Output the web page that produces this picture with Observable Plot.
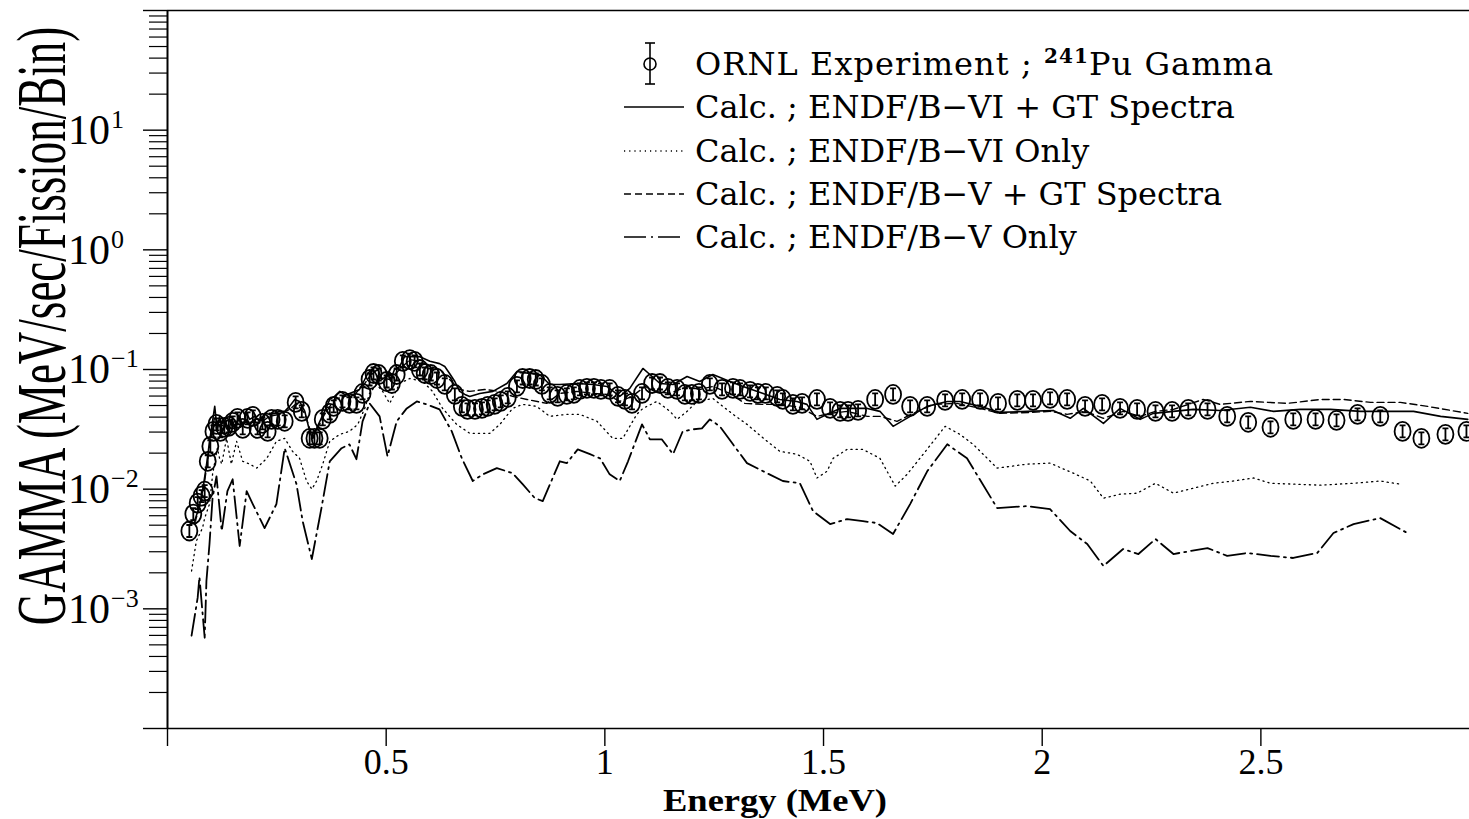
<!DOCTYPE html>
<html><head><meta charset="utf-8">
<script src="https://cdn.jsdelivr.net/npm/d3@7"></script>
<script src="https://cdn.jsdelivr.net/npm/@observablehq/plot@0.6"></script>
<style>
html,body{margin:0;padding:0;background:#fff;}
#chart{width:1469px;height:819px;overflow:hidden;}
</style></head><body><div id="chart"></div>
<script>
// ORNL experiment, 241Pu gamma (MeV)
const expEnergy = [0.050,0.059,0.069,0.078,0.085,0.092,0.098,0.105,0.112,0.121,0.130,0.140,0.149,0.160,0.172,0.183,0.195,0.206,0.217,0.229,0.238,0.252,0.268,0.293,0.307,0.325,0.336,0.348,0.355,0.371,0.380,0.400,0.416,0.432,0.446,0.462,0.471,0.483,0.501,0.513,0.524,0.538,0.554,0.565,0.577,0.588,0.602,0.616,0.634,0.657,0.673,0.686,0.703,0.719,0.732,0.748,0.762,0.778,0.799,0.812,0.828,0.842,0.856,0.874,0.892,0.913,0.929,0.943,0.959,0.975,0.991,1.011,1.030,1.046,1.062,1.085,1.108,1.126,1.144,1.165,1.183,1.199,1.215,1.240,1.268,1.293,1.309,1.332,1.350,1.368,1.394,1.407,1.430,1.451,1.485,1.515,1.538,1.556,1.579,1.618,1.659,1.698,1.737,1.778,1.817,1.858,1.899,1.943,1.979,2.018,2.057,2.098,2.137,2.178,2.217,2.259,2.297,2.334,2.378,2.423,2.471,2.522,2.574,2.625,2.673,2.721,2.773,2.824,2.867,2.922,2.970];
const expGamma = [0.00447,0.00619,0.00764,0.00874,0.00962,0.0171,0.0228,0.0304,0.0348,0.0304,0.0329,0.0335,0.0362,0.0391,0.0322,0.0391,0.0406,0.0322,0.0355,0.0304,0.0383,0.0383,0.0369,0.0531,0.0447,0.0266,0.0266,0.0266,0.0383,0.0430,0.0492,0.0541,0.0521,0.0521,0.0631,0.0825,0.0926,0.0908,0.0794,0.0764,0.0908,0.117,0.121,0.117,0.100,0.0926,0.0908,0.0841,0.0750,0.0619,0.0492,0.0464,0.0464,0.0473,0.0492,0.0511,0.0541,0.0584,0.0722,0.0841,0.0841,0.0825,0.0750,0.0631,0.0596,0.0619,0.0631,0.0681,0.0695,0.0695,0.0681,0.0681,0.0596,0.0562,0.0521,0.0631,0.0764,0.0764,0.0695,0.0681,0.0619,0.0619,0.0631,0.0750,0.0681,0.0695,0.0681,0.0656,0.0631,0.0631,0.0596,0.0562,0.0511,0.0521,0.0562,0.0473,0.0447,0.0447,0.0455,0.0562,0.0619,0.0492,0.0492,0.0552,0.0562,0.0562,0.0521,0.0552,0.0552,0.0573,0.0562,0.0492,0.0511,0.0473,0.0464,0.0447,0.0447,0.0464,0.0464,0.0406,0.0362,0.0329,0.0383,0.0383,0.0376,0.0422,0.0406,0.0304,0.0266,0.0287,0.0304];

// Calc. ; ENDF/B-VI + GT Spectra (solid)
const viGtEnergy = [0.062,0.073,0.080,0.087,0.092,0.096,0.103,0.108,0.114,0.119,0.126,0.133,0.140,0.146,0.153,0.165,0.172,0.181,0.188,0.199,0.211,0.222,0.233,0.245,0.256,0.268,0.279,0.291,0.302,0.314,0.325,0.332,0.343,0.359,0.371,0.382,0.394,0.405,0.416,0.428,0.439,0.451,0.458,0.467,0.474,0.481,0.490,0.497,0.503,0.513,0.519,0.531,0.542,0.554,0.577,0.600,0.622,0.634,0.645,0.657,0.668,0.680,0.691,0.714,0.744,0.776,0.799,0.828,0.851,0.874,0.897,0.936,0.973,1.005,1.034,1.057,1.087,1.103,1.126,1.156,1.188,1.217,1.247,1.286,1.316,1.362,1.400,1.439,1.462,1.485,1.508,1.538,1.600,1.629,1.659,1.698,1.737,1.783,1.812,1.858,1.904,1.966,2.025,2.064,2.094,2.140,2.178,2.224,2.254,2.300,2.346,2.407,2.476,2.529,2.590,2.659,2.728,2.789,2.849,2.911,2.973];
const viGtGamma = [0.00541,0.00722,0.00962,0.0141,0.0188,0.0251,0.0369,0.0492,0.0304,0.0406,0.0304,0.0369,0.0304,0.0383,0.0335,0.0406,0.0335,0.0430,0.0383,0.0406,0.0369,0.0430,0.0422,0.0430,0.0447,0.0447,0.0492,0.0562,0.0541,0.0447,0.0304,0.0266,0.0335,0.0447,0.0562,0.0596,0.0656,0.0619,0.0631,0.0656,0.0681,0.0825,0.0926,0.100,0.0962,0.100,0.0825,0.0858,0.0926,0.0875,0.100,0.106,0.128,0.128,0.128,0.117,0.112,0.106,0.0926,0.0794,0.0656,0.0619,0.0596,0.0631,0.0656,0.0764,0.0962,0.0926,0.0908,0.0750,0.0750,0.0764,0.0750,0.0722,0.0596,0.0695,0.102,0.0908,0.0764,0.0750,0.0875,0.0794,0.0908,0.0794,0.0722,0.0631,0.0562,0.0541,0.0511,0.0383,0.0422,0.0473,0.0473,0.0447,0.0335,0.0406,0.0492,0.0541,0.0541,0.0492,0.0438,0.0447,0.0455,0.0391,0.0473,0.0355,0.0473,0.0383,0.0430,0.0447,0.0464,0.0455,0.0483,0.0447,0.0464,0.0464,0.0447,0.0447,0.0447,0.0406,0.0383];

// Calc. ; ENDF/B-VI Only (dotted)
const viEnergy = [0.055,0.066,0.080,0.085,0.096,0.101,0.103,0.114,0.119,0.124,0.135,0.146,0.158,0.172,0.188,0.204,0.227,0.249,0.268,0.286,0.302,0.318,0.330,0.341,0.355,0.371,0.394,0.416,0.435,0.451,0.462,0.478,0.492,0.508,0.531,0.554,0.584,0.606,0.629,0.661,0.691,0.737,0.760,0.789,0.812,0.844,0.874,0.913,0.943,0.982,1.018,1.041,1.073,1.087,1.119,1.149,1.165,1.188,1.211,1.247,1.293,1.325,1.371,1.400,1.439,1.469,1.485,1.508,1.522,1.554,1.590,1.629,1.664,1.691,1.728,1.778,1.812,1.842,1.897,1.966,2.018,2.071,2.110,2.140,2.178,2.217,2.259,2.300,2.346,2.391,2.437,2.483,2.522,2.636,2.712,2.773,2.819];
const viGamma = [0.00207,0.00369,0.00473,0.00573,0.00750,0.0110,0.0133,0.0220,0.0181,0.0162,0.0266,0.0162,0.0251,0.0171,0.0162,0.0150,0.0181,0.0251,0.0266,0.0207,0.0181,0.0117,0.0100,0.0117,0.0162,0.0251,0.0287,0.0304,0.0348,0.0473,0.0631,0.0750,0.0656,0.0521,0.0764,0.0841,0.0794,0.0656,0.0473,0.0348,0.0293,0.0293,0.0348,0.0473,0.0511,0.0492,0.0406,0.0422,0.0422,0.0369,0.0266,0.0266,0.0422,0.0473,0.0541,0.0447,0.0383,0.0447,0.0541,0.0573,0.0422,0.0348,0.0251,0.0207,0.0196,0.0171,0.0124,0.0141,0.0181,0.0215,0.0215,0.0181,0.0106,0.0133,0.0196,0.0335,0.0287,0.0237,0.0150,0.0162,0.0165,0.0136,0.0117,0.00841,0.00908,0.00926,0.0112,0.00926,0.0102,0.0112,0.0117,0.0124,0.0112,0.0108,0.0112,0.0117,0.0110];

// Calc. ; ENDF/B-V + GT Spectra (dashed)
const vGtEnergy = [0.062,0.073,0.085,0.096,0.108,0.119,0.130,0.142,0.153,0.165,0.188,0.211,0.233,0.256,0.279,0.295,0.314,0.332,0.359,0.382,0.405,0.428,0.451,0.467,0.485,0.508,0.531,0.554,0.577,0.600,0.622,0.645,0.668,0.691,0.725,0.760,0.789,0.822,0.867,0.897,0.936,0.973,1.005,1.034,1.062,1.092,1.114,1.149,1.188,1.217,1.247,1.286,1.320,1.362,1.400,1.446,1.485,1.515,1.554,1.600,1.629,1.668,1.705,1.751,1.805,1.858,1.904,1.973,2.018,2.057,2.098,2.140,2.185,2.224,2.259,2.300,2.368,2.407,2.476,2.561,2.636,2.689,2.751,2.819,2.881,2.973];
const vGtGamma = [0.00521,0.00695,0.0117,0.0228,0.0406,0.0335,0.0369,0.0316,0.0369,0.0348,0.0369,0.0355,0.0406,0.0422,0.0464,0.0521,0.0430,0.0266,0.0422,0.0562,0.0596,0.0619,0.0764,0.0926,0.0858,0.0825,0.100,0.121,0.117,0.106,0.100,0.0825,0.0681,0.0656,0.0681,0.0656,0.0596,0.0562,0.0521,0.0631,0.0656,0.0631,0.0619,0.0541,0.0596,0.0722,0.0656,0.0631,0.0722,0.0681,0.0722,0.0631,0.0521,0.0511,0.0511,0.0483,0.0406,0.0430,0.0447,0.0406,0.0406,0.0369,0.0430,0.0511,0.0521,0.0473,0.0430,0.0438,0.0447,0.0422,0.0447,0.0391,0.0447,0.0406,0.0447,0.0464,0.0562,0.0511,0.0541,0.0521,0.0562,0.0562,0.0531,0.0531,0.0492,0.0430];

// Calc. ; ENDF/B-V Only (long dash - dot)
const vEnergy = [0.055,0.069,0.073,0.085,0.089,0.096,0.103,0.112,0.124,0.137,0.149,0.165,0.181,0.195,0.222,0.249,0.268,0.295,0.309,0.330,0.352,0.371,0.398,0.416,0.432,0.446,0.462,0.485,0.503,0.524,0.547,0.570,0.593,0.622,0.650,0.673,0.698,0.721,0.753,0.789,0.812,0.840,0.858,0.897,0.913,0.938,0.966,0.989,1.011,1.034,1.053,1.085,1.103,1.130,1.156,1.178,1.201,1.222,1.240,1.263,1.293,1.325,1.371,1.407,1.446,1.476,1.515,1.554,1.590,1.622,1.659,1.698,1.737,1.783,1.828,1.897,1.966,2.018,2.064,2.103,2.140,2.185,2.220,2.259,2.300,2.378,2.423,2.469,2.522,2.574,2.629,2.666,2.712,2.773,2.835];
const vGamma = [0.000596,0.00124,0.00185,0.000573,0.00171,0.00348,0.00841,0.0128,0.00447,0.00962,0.0121,0.00335,0.00962,0.00750,0.00473,0.00750,0.0220,0.0110,0.00541,0.00261,0.00695,0.0171,0.0220,0.0237,0.0178,0.0369,0.0521,0.0406,0.0188,0.0369,0.0473,0.0541,0.0511,0.0464,0.0304,0.0181,0.0117,0.0133,0.0150,0.0136,0.0110,0.00841,0.00794,0.0171,0.0165,0.0215,0.0196,0.0181,0.0133,0.0117,0.0171,0.0348,0.0261,0.0261,0.0196,0.0304,0.0316,0.0322,0.0383,0.0335,0.0237,0.0165,0.0136,0.0117,0.0112,0.00656,0.00511,0.00562,0.00541,0.00521,0.00422,0.00750,0.0141,0.0237,0.0181,0.00695,0.00722,0.00681,0.00447,0.00348,0.00228,0.00316,0.00287,0.00383,0.00287,0.00322,0.00277,0.00293,0.00277,0.00266,0.00293,0.00430,0.00511,0.00573,0.00430];

// Axes
const xTickValues = [0, 0.5, 1, 1.5, 2, 2.5];
const xTickLabels = ["", "0.5", "1", "1.5", "2", "2.5"];
const yMajorExponents = [-4, -3, -2, -1, 0, 1, 2];
const yLabelExponents = [1, 0, -1, -2, -3];
const yLabelSuperscripts = ["1", "0", "\u22121", "\u22122", "\u22123"];
const xAxisTitle = "Energy (MeV)";
const yAxisTitle = "GAMMA (MeV/sec/Fission/Bin)";
const legendTexts = [
  "Calc. ; ENDF/B\u2212VI + GT Spectra",
  "Calc. ; ENDF/B\u2212VI Only",
  "Calc. ; ENDF/B\u2212V + GT Spectra",
  "Calc. ; ENDF/B\u2212V Only"
];
const legendDashes = ["none", "1.2,4", "7,4", "22,5,2,5"];

const rows = (E, G) => E.map((e, i) => ({E: e, G: G[i]}));
const yMajor = yMajorExponents.map(p => 10 ** p);
const yMinor = d3.range(-4, 2).flatMap(p => d3.range(2, 10).map(k => k * 10 ** p));

// circle with an inner error bar, like the experiment symbol
const expSymbol = {
  draw(ctx) {
    const rx = 8, ry = 9.5, k = 0.5523;
    ctx.moveTo(rx, 0);
    ctx.bezierCurveTo(rx, k * ry, k * rx, ry, 0, ry);
    ctx.bezierCurveTo(-k * rx, ry, -rx, k * ry, -rx, 0);
    ctx.bezierCurveTo(-rx, -k * ry, -k * rx, -ry, 0, -ry);
    ctx.bezierCurveTo(k * rx, -ry, rx, -k * ry, rx, 0);
    ctx.closePath();
    ctx.moveTo(0, -6); ctx.lineTo(0, 6);
    ctx.moveTo(-3, -6); ctx.lineTo(3, -6);
    ctx.moveTo(-3, 6); ctx.lineTo(3, 6);
  }
};

const chart = Plot.plot({
  width: 1469, height: 819,
  marginLeft: 167, marginRight: 0, marginTop: 10, marginBottom: 91,
  x: {domain: [0, 2.977]},
  y: {type: "log", domain: [1e-4, 1e2]},
  style: {background: "#fff", color: "#000", fontFamily: "'Liberation Serif', serif", overflow: "visible"},
  marks: [
    Plot.ruleX([0], {stroke: "#000", strokeWidth: 2}),
    Plot.ruleY([1e2, 1e-4], {stroke: "#000", strokeWidth: 1.5}),
    Plot.axisY(yMajor, {tickSize: 24, fill: "none", strokeWidth: 1.4}),
    Plot.axisY(yMinor, {tickSize: 18, fill: "none", strokeWidth: 1.2}),
    Plot.axisX(xTickValues, {tickSize: 18, tickPadding: 2, fontSize: 36, strokeWidth: 1.4,
      tickFormat: d => xTickLabels[xTickValues.indexOf(d)], label: null}),
    Plot.line(rows(vEnergy, vGamma), {x: "E", y: "G", stroke: "#000", strokeWidth: 1.8, strokeDasharray: legendDashes[3]}),
    Plot.line(rows(viEnergy, viGamma), {x: "E", y: "G", stroke: "#000", strokeWidth: 1.3, strokeDasharray: legendDashes[1]}),
    Plot.line(rows(vGtEnergy, vGtGamma), {x: "E", y: "G", stroke: "#000", strokeWidth: 1.4, strokeDasharray: legendDashes[2]}),
    Plot.line(rows(viGtEnergy, viGtGamma), {x: "E", y: "G", stroke: "#000", strokeWidth: 1.6}),
    Plot.dot(rows(expEnergy, expGamma), {x: "E", y: "G", symbol: expSymbol, r: 8, stroke: "#000", strokeWidth: 1.8, fill: "none"})
  ]
});

const svg = d3.select(chart);
const yScale = chart.scale("y");

// y tick labels: 10 with superscript exponent, placed with Plot's y scale
const yl = svg.append("g").attr("font-family", "'Liberation Serif', serif").attr("fill", "#000").attr("text-anchor", "start");
yLabelExponents.forEach((p, i) => {
  const t = yl.append("text").attr("x", 68).attr("y", yScale.apply(10 ** p)).attr("dy", "0.34em").attr("font-size", 42);
  t.append("tspan").text("10");
  t.append("tspan").attr("font-size", 26).attr("dy", -16).attr("dx", 1).text(yLabelSuperscripts[i]);
});

// axis titles
svg.append("text").attr("x", 775).attr("y", 811).attr("text-anchor", "middle")
  .attr("font-family", "'Liberation Serif', serif").attr("font-size", 32).attr("font-weight", "bold")
  .attr("textLength", 224).attr("lengthAdjust", "spacingAndGlyphs")
  .attr("fill", "#000").text(xAxisTitle);
svg.append("text").attr("transform", "translate(65,326) rotate(-90) scale(1,1.55)")
  .attr("text-anchor", "middle").attr("font-family", "'Liberation Serif', serif").attr("font-size", 45)
  .attr("fill", "#000").text(yAxisTitle);

// legend
const lg = svg.append("g").attr("font-family", "'DejaVu Serif', serif").attr("font-size", 32)
  .attr("fill", "#000").attr("text-anchor", "start");
const rowY = [64, 107, 151, 194, 237];
const symX0 = 624, symX1 = 684, textX = 695;
lg.append("line").attr("x1", 650).attr("x2", 650).attr("y1", rowY[0] - 21).attr("y2", rowY[0] + 20).attr("stroke", "#000").attr("stroke-width", 1.6);
lg.append("line").attr("x1", 645).attr("x2", 655).attr("y1", rowY[0] - 21).attr("y2", rowY[0] - 21).attr("stroke", "#000").attr("stroke-width", 1.6);
lg.append("line").attr("x1", 645).attr("x2", 655).attr("y1", rowY[0] + 20).attr("y2", rowY[0] + 20).attr("stroke", "#000").attr("stroke-width", 1.6);
lg.append("circle").attr("cx", 650).attr("cy", rowY[0]).attr("r", 6).attr("fill", "none").attr("stroke", "#000").attr("stroke-width", 1.6);
const t0 = lg.append("text").attr("x", textX).attr("y", rowY[0] + 11)
  .attr("textLength", 578).attr("lengthAdjust", "spacing");
t0.append("tspan").text("ORNL Experiment ; ");
t0.append("tspan").attr("font-size", 20).attr("font-weight", "bold").attr("dy", -12).text("241");
t0.append("tspan").attr("dy", 12).text("Pu Gamma");
legendTexts.forEach((s, i) => {
  const y = rowY[i + 1];
  lg.append("line").attr("x1", symX0).attr("x2", symX1).attr("y1", y).attr("y2", y)
    .attr("stroke", "#000").attr("stroke-width", i === 1 ? 1.3 : 1.6).attr("stroke-dasharray", legendDashes[i]);
  lg.append("text").attr("x", textX).attr("y", y + 11).text(s);
});

document.getElementById("chart").appendChild(chart);
</script>
</body></html>
